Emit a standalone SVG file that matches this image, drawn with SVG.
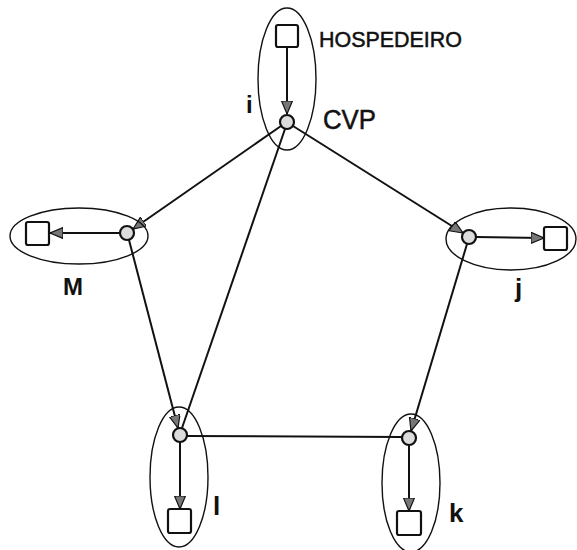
<svg xmlns="http://www.w3.org/2000/svg" width="577" height="550" viewBox="0 0 577 550">
  <style>
    .bg { fill: #ffffff; }
    .group { fill: none; stroke: #111; stroke-width: 1.4; }
    .edge { fill: none; stroke: #111; stroke-width: 2; }
    .host { fill: #ffffff; stroke: #111; stroke-width: 2.2; }
    .switch { fill: #dcdcdc; stroke: #111; stroke-width: 2.2; }
    .label { font-family: "Liberation Sans", Arial, sans-serif; font-weight: bold; fill: #111; }
    .caption { font-family: "Liberation Sans", Arial, sans-serif; fill: #111; stroke: #111; stroke-width: 0.5; }
  </style>
  <defs>
    <marker id="arrow" markerUnits="userSpaceOnUse" markerWidth="15" markerHeight="12" refX="13" refY="5.5" orient="auto">
      <path d="M0,0 L13,5.5 L0,11 z" fill="#777" stroke="#111" stroke-width="1.2"/>
    </marker>
  </defs>

  <rect class="bg" x="0" y="0" width="577" height="550"/>

  <!-- links between switches and hosts -->
  <g id="connectors">
    <line class="edge" x1="287" y1="48" x2="287" y2="114" marker-end="url(#arrow)"/>
    <line class="edge" x1="281" y1="126" x2="133" y2="229" marker-end="url(#arrow)"/>
    <line class="edge" x1="293" y1="126" x2="463" y2="233" marker-end="url(#arrow)"/>
    <line class="edge" x1="285" y1="129" x2="182" y2="428"/>
    <line class="edge" x1="120" y1="233" x2="50" y2="233" marker-end="url(#arrow)"/>
    <line class="edge" x1="129" y1="240" x2="178" y2="428" marker-end="url(#arrow)"/>
    <line class="edge" x1="476" y1="237" x2="544" y2="238" marker-end="url(#arrow)"/>
    <line class="edge" x1="467" y1="244" x2="411" y2="431" marker-end="url(#arrow)"/>
    <line class="edge" x1="187" y1="436" x2="402" y2="437"/>
    <line class="edge" x1="180" y1="442" x2="180" y2="509" marker-end="url(#arrow)"/>
    <line class="edge" x1="409" y1="445" x2="409" y2="511" marker-end="url(#arrow)"/>
  </g>

  <!-- node i: host + CVP switch -->
  <g id="node-i">
    <ellipse class="group" cx="287" cy="79" rx="29" ry="71"/>
    <rect class="host" x="276" y="25" width="22" height="22" rx="2"/>
    <circle class="switch" cx="287" cy="122" r="7"/>
    <text class="caption" x="319" y="47" font-size="22" textLength="143" lengthAdjust="spacingAndGlyphs">HOSPEDEIRO</text>
    <text class="caption" x="323" y="129" font-size="27" textLength="53" lengthAdjust="spacingAndGlyphs">CVP</text>
    <text class="label" x="246" y="113" font-size="24">i</text>
  </g>

  <!-- node M -->
  <g id="node-M">
    <ellipse class="group" cx="79" cy="236" rx="69" ry="28"/>
    <rect class="host" x="26" y="222" width="23" height="23" rx="2"/>
    <circle class="switch" cx="127" cy="233" r="7"/>
    <text class="label" x="63" y="295" font-size="24">M</text>
  </g>

  <!-- node j -->
  <g id="node-j">
    <ellipse class="group" cx="511" cy="239" rx="65" ry="31"/>
    <rect class="host" x="544" y="227" width="23" height="23" rx="2"/>
    <circle class="switch" cx="469" cy="237" r="7"/>
    <text class="label" x="515" y="297" font-size="26">j</text>
  </g>

  <!-- node l -->
  <g id="node-l">
    <ellipse class="group" cx="179" cy="477" rx="29" ry="70"/>
    <rect class="host" x="168" y="509" width="23" height="24" rx="2"/>
    <circle class="switch" cx="180" cy="435" r="7"/>
    <text class="label" x="213" y="515" font-size="26">l</text>
  </g>

  <!-- node k -->
  <g id="node-k">
    <ellipse class="group" cx="411" cy="483" rx="29" ry="69"/>
    <rect class="host" x="397" y="511" width="24" height="24" rx="2"/>
    <circle class="switch" cx="409" cy="438" r="7"/>
    <text class="label" x="449" y="522" font-size="26">k</text>
  </g>
</svg>
